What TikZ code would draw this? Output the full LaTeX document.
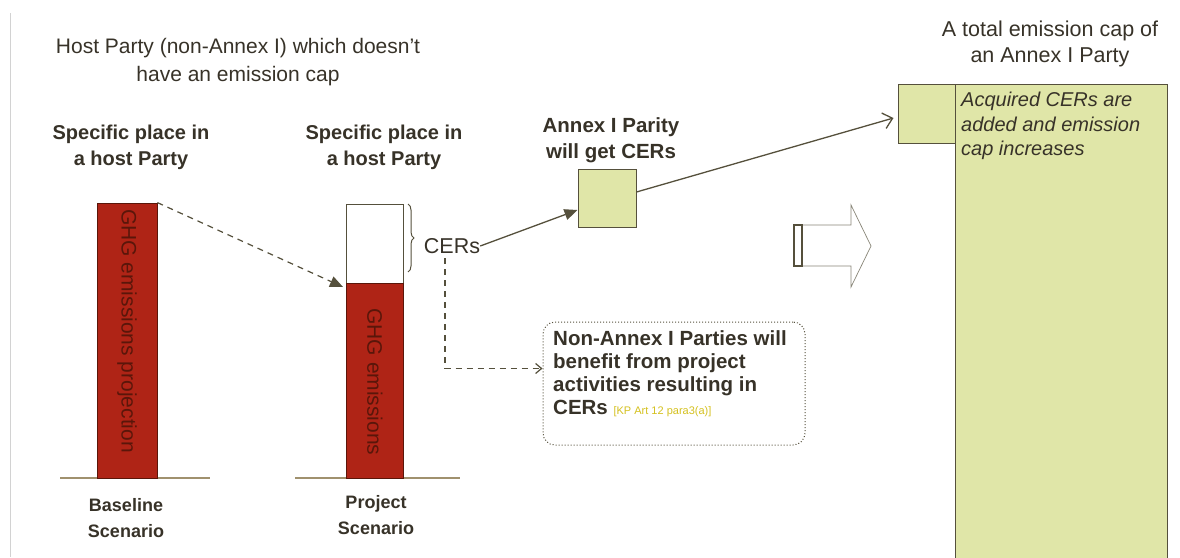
\documentclass[tikz,border=0pt]{standalone}
\usepackage{fontspec}
\setmainfont{Liberation Sans}
\usetikzlibrary{arrows.meta,decorations.pathreplacing,calc}
\definecolor{txt}{RGB}{55,50,40}
\definecolor{barred}{RGB}{175,36,22}
\definecolor{bardark}{RGB}{90,22,10}
\definecolor{capgreen}{RGB}{224,230,168}
\definecolor{edge}{RGB}{85,80,60}
\definecolor{ground}{RGB}{160,145,110}
\definecolor{kp}{RGB}{212,192,30}
\begin{document}
\begin{tikzpicture}[x=1pt,y=-1pt,
  lbl/.style={text=txt, align=center, inner sep=0pt, font=\fontsize{21}{28}\selectfont},
  blbl/.style={text=txt, align=center, inner sep=0pt, font=\bfseries\fontsize{20}{26}\selectfont},
  bartext/.style={rotate=-90, text=bardark, inner sep=0pt, font=\fontsize{21}{22}\selectfont},
  groundline/.style={ground, line width=1.2pt},
  greenbox/.style={fill=capgreen, draw=edge, line width=1pt},
  conn/.style={edge, line width=1.3pt},
  dconn/.style={edge, line width=1.2pt, dash pattern=on 6pt off 5pt}
]
\useasboundingbox (0,0) rectangle (1180,557);

% left border line
\draw[gray!35, line width=0.8pt] (10,13) -- (10,557);

% titles
\node[lbl] (title) at (238,62) {Host Party (non-Annex I) which doesn't\\have an emission cap};
\node[lbl, font=\fontsize{21.5}{26}\selectfont] (captitle) at (1050,44) {A total emission cap of\\an Annex I Party};
\node[blbl] (spec1) at (131,147) {Specific place in\\a host Party};
\node[blbl] (spec2) at (384,147) {Specific place in\\a host Party};
\node[blbl, font=\bfseries\fontsize{20.5}{26}\selectfont] (getcer) at (611,140) {Annex I Parity\\will get CERs};

% baseline bar
\draw[groundline] (60,478) -- (210,478);
\node[fill=barred, draw=bardark, line width=0.8pt, minimum width=60pt, minimum height=275pt, inner sep=0pt] (bbar) at (127,340.5) {};
\node[bartext] (btext) at (127,331) {GHG emissions projection};
\node[blbl, font=\bfseries\fontsize{18}{26}\selectfont] (blabel) at (126,518) {Baseline\\Scenario};

% project bar
\draw[groundline] (295,478) -- (460,478);
\node[fill=white, draw=edge, line width=0.8pt, minimum width=57pt, minimum height=79pt, inner sep=0pt] (pwhite) at (374.5,243.5) {};
\node[fill=barred, draw=bardark, line width=0.8pt, minimum width=57pt, minimum height=195pt, inner sep=0pt] (pbar) at (374.5,380.5) {};
\node[bartext] (ptext) at (375,382) {GHG emissions};
\node[blbl, font=\bfseries\fontsize{18}{26}\selectfont] (plabel) at (376,515) {Project\\Scenario};

% brace and CERs
\draw[edge, line width=1pt, decorate, decoration={brace, amplitude=6pt}] (408,204) -- (408,272);
\node[lbl, font=\fontsize{21.5}{24}\selectfont] (cers) at (452,246) {CERs};

% dashed arrow baseline -> project
\coordinate (ptip) at (343,287);
\draw[dconn, -{Triangle[length=13pt,width=11pt]}] (bbar.north east) -- (ptip);

% Annex I small box
\node[greenbox, minimum width=58pt, minimum height=58pt, inner sep=0pt] (abox) at (607,198) {};
\draw[conn, -{Triangle[length=13pt,width=11pt]}] (cers.east) -- ([yshift=-12pt]abox.west);

% big cap column
\draw[greenbox] (955,84) rectangle (1167,560);
\node[greenbox, minimum width=57pt, minimum height=59pt, inner sep=0pt] (cbox) at (926.5,113.5) {};
\node[anchor=north west, text=txt, inner sep=0pt, align=left, font=\itshape\fontsize{20}{24.5}\selectfont] (acq) at (961,92) {Acquired CERs are\\added and emission\\cap increases};
\draw[conn, -{Straight Barb[length=9pt,width=16pt]}] ([yshift=6pt]abox.east) -- ([xshift=-4pt,yshift=-4.5pt]cbox.west);

% non-Annex box
\node[draw=edge, dotted, line width=1pt, rounded corners=12pt, minimum width=262pt, minimum height=123pt, inner sep=0pt] (nbox) at (674,383.5) {};
\node[anchor=north west, text=txt, inner sep=0pt, align=left, font=\bfseries\fontsize{20.5}{23}\selectfont] (ntext) at (553,330) {Non-Annex I Parties will\\benefit from project\\activities resulting in\\CERs {\mdseries\fontsize{11}{12}\selectfont\color{kp}[KP Art 12 para3(a)]}};
\coordinate (cdrop) at (445,258);
\draw[dconn, -{Straight Barb[length=6pt,width=10pt]}] (cdrop) |- ([yshift=15pt]nbox.west);

% hollow block arrow
\draw[edge!70, line width=0.7pt, fill=white] (803,225) -- (851,225) -- (851,205) -- (871,246) -- (851,287) -- (851,266) -- (803,266);
\node[draw=edge, line width=2.2pt, fill=white, minimum width=8pt, minimum height=41pt, inner sep=0pt] (tail) at (798,245.5) {};
\end{tikzpicture}
\end{document}
